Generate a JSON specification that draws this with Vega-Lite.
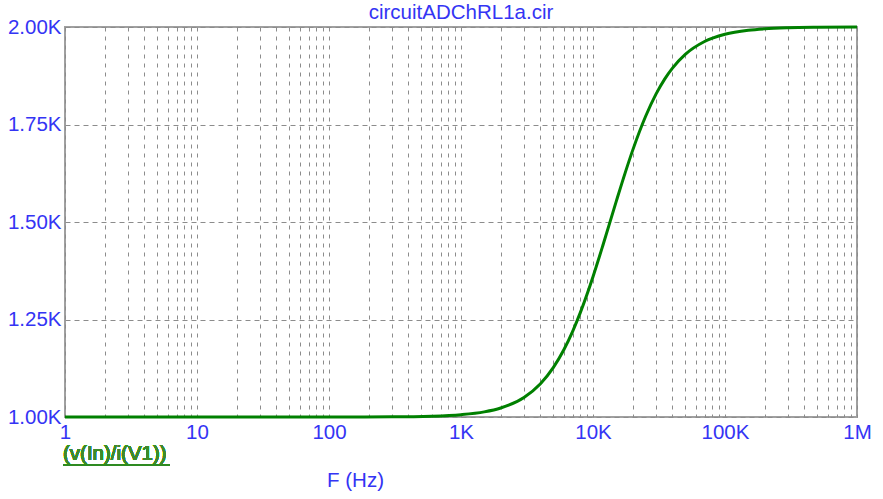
{
  "$schema": "https://vega.github.io/schema/vega-lite/v6.json",
  "width": 792,
  "height": 390,
  "autosize": {"type": "none"},
  "padding": {"left": 65, "top": 27, "right": 26, "bottom": 82},
  "background": "white",
  "config": {
    "view": {"stroke": "#a0a0a0", "strokeWidth": 2},
    "font": "Liberation Sans"
  },
  "title": {
    "text": "circuitADChRL1a.cir",
    "anchor": "middle",
    "frame": "group",
    "color": "#3434f4",
    "fontSize": 20.5,
    "fontWeight": "normal",
    "font": "Liberation Sans",
    "offset": -6
  },
  "data": {
    "values": [
      {"f": 1, "z": 1000.0},
      {"f": 10, "z": 1000.0},
      {"f": 100, "z": 1000.1},
      {"f": 300, "z": 1000.5},
      {"f": 600, "z": 1002.1},
      {"f": 1000, "z": 1005.9},
      {"f": 1500, "z": 1013.1},
      {"f": 2000, "z": 1023.1},
      {"f": 3000, "z": 1050.2},
      {"f": 4000, "z": 1085.5},
      {"f": 5000, "z": 1126.7},
      {"f": 6000, "z": 1171.9},
      {"f": 7000, "z": 1219.1},
      {"f": 8000, "z": 1266.9},
      {"f": 9000, "z": 1314.1},
      {"f": 10000, "z": 1359.8},
      {"f": 12000, "z": 1444.8},
      {"f": 15000, "z": 1552.8},
      {"f": 17500, "z": 1625.4},
      {"f": 20000, "z": 1684.3},
      {"f": 25000, "z": 1770.5},
      {"f": 30000, "z": 1827.9},
      {"f": 35000, "z": 1867.1},
      {"f": 40000, "z": 1894.7},
      {"f": 50000, "z": 1929.8},
      {"f": 70000, "z": 1962.8},
      {"f": 100000, "z": 1981.4},
      {"f": 150000, "z": 1991.6},
      {"f": 200000, "z": 1995.3},
      {"f": 300000, "z": 1997.9},
      {"f": 500000, "z": 1999.2},
      {"f": 1000000, "z": 1999.8}
    ]
  },
  "layer": [
    {
      "mark": {"type": "line", "color": "#008000", "strokeWidth": 3, "interpolate": "monotone", "clip": false},
      "encoding": {
        "x": {
          "field": "f",
          "type": "quantitative",
          "scale": {"type": "log", "domain": [1, 1000000], "nice": false},
          "axis": {
            "values": [1,2,3,4,5,6,7,8,9,10,20,30,40,50,60,70,80,90,100,200,300,400,500,600,700,800,900,1000,2000,3000,4000,5000,6000,7000,8000,9000,10000,20000,30000,40000,50000,60000,70000,80000,90000,100000,200000,300000,400000,500000,600000,700000,800000,900000,1000000],
            "labelExpr": "datum.value == 1 ? '1' : datum.value == 10 ? '10' : datum.value == 100 ? '100' : datum.value == 1000 ? '1K' : datum.value == 10000 ? '10K' : datum.value == 100000 ? '100K' : datum.value == 1000000 ? '1M' : ''",
            "labelFont": "Liberation Sans",
            "labelFontSize": 20.5,
            "labelColor": "#3434f4",
            "labelPadding": 5,
            "labelOverlap": false,
            "labelFlush": false,
            "ticks": false,
            "domain": false,
            "grid": true,
            "gridColor": "#8c8c8c",
            "gridDash": [4, 5],
            "gridWidth": 1,
            "title": "F (Hz)",
            "titleFont": "Liberation Sans",
            "titleFontSize": 20.5,
            "titleFontWeight": "normal",
            "titleColor": "#3434f4",
            "titleX": 290,
            "titleY": 69,
            "titleAlign": "center",
            "titleBaseline": "alphabetic"
          }
        },
        "y": {
          "field": "z",
          "type": "quantitative",
          "scale": {"domain": [1000, 2000], "nice": false, "zero": false},
          "axis": {
            "values": [1000, 1250, 1500, 1750, 2000],
            "labelExpr": "format(datum.value / 1000, '.2f') + 'K'",
            "labelFont": "Liberation Sans",
            "labelFontSize": 20.5,
            "labelColor": "#3434f4",
            "labelPadding": 4,
            "ticks": false,
            "domain": false,
            "grid": true,
            "gridColor": "#8c8c8c",
            "gridDash": [5, 4],
            "gridWidth": 1,
            "title": null
          }
        }
      }
    },
    {
      "mark": {"type": "text", "align": "left", "baseline": "alphabetic", "dy": 43, "dx": -2, "fontSize": 20.5, "font": "Liberation Sans", "color": "#3d8a2a"},
      "encoding": {
        "x": {"datum": 1},
        "y": {"datum": 1000},
        "text": {"value": "(v(In)/i(V1))"}
      }
    },
    {
      "mark": {"type": "rule", "color": "#2f8a22", "strokeWidth": 1.5, "yOffset": 48, "xOffset": -2},
      "encoding": {
        "x": {"datum": 1},
        "x2": {"datum": 6.24},
        "y": {"datum": 1000}
      }
    }
  ]
}
